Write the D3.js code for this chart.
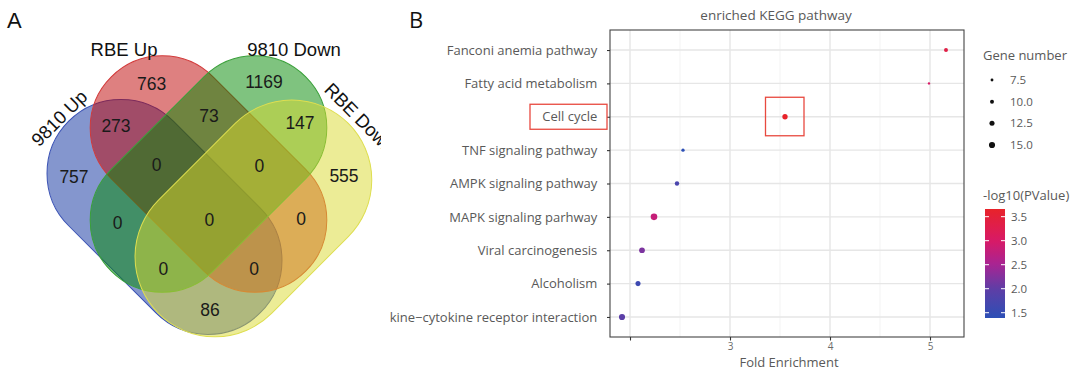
<!DOCTYPE html>
<html><head><meta charset="utf-8">
<script src="https://cdn.jsdelivr.net/npm/d3@7"></script>
<style>body{margin:0;background:#fff} svg{display:block}</style>
</head><body><svg id="c" width="1080" height="386"></svg>
<script>
// ---------- DATA ----------
const vennSets = ["9810 Up", "RBE Up", "9810 Down", "RBE Down"];
const vennColors = ["#092d9d", "#bd0101", "#008700", "#d9d92d"];
const vennStrokes = ["#3a52b4", "#d23a3a", "#3aa03a", "#dede50"];
const vennRegionKeys = ["A","B","C","D","AB","BC","CD","AD","AC","BD","ABC","BCD","ACD","ABD","ABCD"];
const vennCounts = [757, 763, 1169, 555, 273, 73, 147, 86, 0, 0, 0, 0, 0, 0, 0];

const pathways = ["Fanconi anemia pathway","Fatty acid metabolism","Cell cycle","TNF signaling pathway",
  "AMPK signaling pathway","MAPK signaling parhway","Viral carcinogenesis","Alcoholism",
  "kine\u2212cytokine receptor interaction"];
const foldEnrichment = [5.16, 4.99, 3.55, 2.53, 2.47, 2.24, 2.12, 2.08, 1.92];
const geneNumber = [10, 6.5, 13, 8.5, 11, 16, 14, 12.5, 15];
const negLog10P = [3.35, 3.0, 3.66, 1.39, 1.75, 2.8, 2.2, 1.6, 1.95];
const xTicks = [2, 3, 4, 5];
const xTickLabels = ["", "3", "4", "5"];
const xMinor = [2.5, 3.5, 4.5];
const sizeLegend = [7.5, 10, 12.5, 15];
const colorLegend = [1.5, 2.0, 2.5, 3.0, 3.5];
const highlighted = ["Cell cycle"];

// ---------- LAYOUT ----------
const svg = d3.select("#c");
const sans = "Liberation Sans, Arial, sans-serif";
const uiFont = "Open Sans, Noto Sans, sans-serif";
const grey = "#595959";

// Panel A
svg.append("text").attr("x", 7).attr("y", 28).attr("font-family", sans).attr("font-size", 22).attr("fill", "#111").text("A");
const defs = svg.append("defs");
defs.append("clipPath").attr("id", "clipA").append("rect").attr("x", 0).attr("y", 0).attr("width", 381).attr("height", 386);
const gA = svg.append("g").attr("clip-path", "url(#clipA)");

const shapes = [
  {cx: 164.5, cy: 216.9, len: 271, r: 74, rot: 45},
  {cx: 208.5, cy: 174, len: 275, r: 72, rot: 45},
  {cx: 208.5, cy: 174, len: 275, r: 72, rot: -45},
  {cx: 253.4, cy: 218.4, len: 268.5, r: 80, rot: -45}
];
gA.selectAll("rect.set").data(vennSets).join("rect").attr("class", "set")
  .attr("x", (d, i) => shapes[i].cx - shapes[i].len / 2)
  .attr("y", (d, i) => shapes[i].cy - shapes[i].r)
  .attr("width", (d, i) => shapes[i].len)
  .attr("height", (d, i) => 2 * shapes[i].r)
  .attr("rx", (d, i) => shapes[i].r).attr("ry", (d, i) => shapes[i].r)
  .attr("transform", (d, i) => `rotate(${shapes[i].rot},${shapes[i].cx},${shapes[i].cy})`)
  .attr("fill", (d, i) => vennColors[i]).attr("fill-opacity", 0.5)
  .attr("stroke", (d, i) => vennStrokes[i]).attr("stroke-width", 1);

const setLabelPos = [
  {x: 59, y: 118, rot: -45},
  {x: 124, y: 49, rot: 0},
  {x: 294, y: 49, rot: 0},
  {x: 360, y: 118, rot: 45}
];
gA.selectAll("text.setlab").data(vennSets).join("text").attr("class", "setlab")
  .attr("transform", (d, i) => `translate(${setLabelPos[i].x},${setLabelPos[i].y}) rotate(${setLabelPos[i].rot})`)
  .attr("text-anchor", "middle").attr("dy", "0.36em")
  .attr("font-family", sans).attr("font-size", 18.5).attr("fill", "#111").text(d => d);

const regionPos = {A:[74,177],B:[151.7,83.3],C:[264,81.7],D:[344,175.7],AB:[116,126],BC:[209,116],
  CD:[300,122.7],AD:[210,310],AC:[117.7,222.3],BD:[301,219],ABC:[156.7,164.3],BCD:[259.3,165.7],
  ACD:[163.3,269],ABD:[254,268.3],ABCD:[209.3,220]};
gA.selectAll("text.cnt").data(vennRegionKeys).join("text").attr("class", "cnt")
  .attr("x", d => regionPos[d][0]).attr("y", d => regionPos[d][1])
  .attr("text-anchor", "middle").attr("dy", "0.36em")
  .attr("font-family", sans).attr("font-size", 17.5).attr("fill", "#1a1a1a")
  .text((d, i) => vennCounts[i]);

// Panel B
svg.append("text").attr("x", 409).attr("y", 28).attr("font-family", uiFont).attr("font-size", 22).attr("fill", "#111").text("B");

const px0 = 610, px1 = 964, py0 = 30, py1 = 337;
const x = d3.scaleLinear().domain([1.8, 5.34]).range([px0, px1]);
const y = d3.scalePoint().domain(pathways).range([py0, py1]).padding(0.6);
const [pLo, pHi] = d3.extent(negLog10P);
const color = d3.scaleLinear()
  .domain([pLo, pLo + (pHi - pLo) * 0.27, pLo + (pHi - pLo) * 0.49, pLo + (pHi - pLo) * 0.71, pHi])
  .range(["#2c4fb6", "#5f3ea6", "#a82493", "#d81a66", "#e8232a"])
  .interpolate(d3.interpolateRgb);
const rScale = d3.scaleLinear().domain([6, 16]).range([1.1, 3.3]);

const gB = svg.append("g");
gB.append("rect").attr("x", px0).attr("y", py0).attr("width", px1 - px0).attr("height", py1 - py0).attr("fill", "#fff");
gB.selectAll("line.minor").data(xMinor).join("line").attr("class", "minor")
  .attr("x1", d => x(d)).attr("x2", d => x(d)).attr("y1", py0).attr("y2", py1)
  .attr("stroke", "#f0f0f0").attr("stroke-width", 0.8);
gB.selectAll("line.majx").data(xTicks).join("line").attr("class", "majx")
  .attr("x1", d => x(d)).attr("x2", d => x(d)).attr("y1", py0).attr("y2", py1)
  .attr("stroke", "#e6e6e6").attr("stroke-width", 1.4);
gB.selectAll("line.majy").data(pathways).join("line").attr("class", "majy")
  .attr("x1", px0).attr("x2", px1).attr("y1", d => y(d)).attr("y2", d => y(d))
  .attr("stroke", "#e6e6e6").attr("stroke-width", 1.4);

gB.selectAll("circle.pt").data(pathways).join("circle").attr("class", "pt")
  .attr("cx", (d, i) => x(foldEnrichment[i])).attr("cy", d => y(d))
  .attr("r", (d, i) => rScale(geneNumber[i]))
  .attr("fill", (d, i) => color(negLog10P[i]));

gB.append("rect").attr("x", px0).attr("y", py0).attr("width", px1 - px0).attr("height", py1 - py0)
  .attr("fill", "none").attr("stroke", "#444").attr("stroke-width", 1.1);

const yAxis = d3.axisLeft(y).tickSize(3).tickPadding(9.7);
const gy = gB.append("g").attr("transform", `translate(${px0},0)`).call(yAxis);
gy.select(".domain").remove();
gy.selectAll(".tick line").attr("stroke", "#333").attr("stroke-width", 1.1);
gy.selectAll(".tick text").attr("font-family", uiFont).attr("font-size", 13).attr("fill", grey);

const xAxis = d3.axisBottom(x).tickValues(xTicks).tickFormat((d, i) => xTickLabels[i]).tickSize(3.5).tickPadding(2);
const gx = gB.append("g").attr("transform", `translate(0,${py1})`).call(xAxis);
gx.select(".domain").remove();
gx.selectAll(".tick line").attr("stroke", "#333").attr("stroke-width", 1.1);
gx.selectAll(".tick text").attr("font-family", uiFont).attr("font-size", 10).attr("fill", "#6a6a6a");

gB.append("text").attr("x", 789).attr("y", 362).attr("dy", "0.36em").attr("text-anchor", "middle")
  .attr("font-family", uiFont).attr("font-size", 13).attr("fill", grey).text("Fold Enrichment");
gB.append("text").attr("x", 776).attr("y", 15).attr("dy", "0.36em").attr("text-anchor", "middle")
  .attr("font-family", uiFont).attr("font-size", 13.5).attr("fill", grey).text("enriched KEGG pathway");

highlighted.forEach(name => {
  const i = pathways.indexOf(name);
  gB.append("rect").attr("x", 530).attr("y", y(name) - 12.5).attr("width", 77).attr("height", 25)
    .attr("fill", "none").attr("stroke", "#e8493f").attr("stroke-width", 1.3);
  gB.append("rect").attr("x", x(foldEnrichment[i]) - 19.5).attr("y", y(name) - 19.5).attr("width", 38.5).attr("height", 38.5)
    .attr("fill", "none").attr("stroke", "#e8493f").attr("stroke-width", 1.3);
});

// legends
const gL = svg.append("g");
gL.append("text").attr("x", 983).attr("y", 55).attr("dy", "0.36em").attr("font-family", uiFont)
  .attr("font-size", 13).attr("fill", grey).text("Gene number");
const sy = d3.scalePoint().domain(sizeLegend).range([80, 145]);
gL.selectAll("circle.sz").data(sizeLegend).join("circle").attr("class", "sz")
  .attr("cx", 992).attr("cy", d => sy(d)).attr("r", d => rScale(d)).attr("fill", "#111");
gL.selectAll("text.sz").data(sizeLegend).join("text").attr("class", "sz")
  .attr("x", 1010).attr("y", d => sy(d)).attr("dy", "0.36em").attr("font-family", uiFont)
  .attr("font-size", 11.5).attr("fill", grey).text(d => d3.format(".1f")(d));

gL.append("text").attr("x", 983).attr("y", 195).attr("dy", "0.36em").attr("font-family", uiFont)
  .attr("font-size", 13).attr("fill", grey).text("-log10(PValue)");
const cb0 = 209, cb1 = 318;
const cy = d3.scaleLinear().domain([pLo, pHi]).range([cb1, cb0]);
const grad = defs.append("linearGradient").attr("id", "cbg").attr("x1", 0).attr("y1", 1).attr("x2", 0).attr("y2", 0);
d3.range(0, 1.0001, 0.05).forEach(t => {
  grad.append("stop").attr("offset", t).attr("stop-color", color(pLo + t * (pHi - pLo)));
});
gL.append("rect").attr("x", 985).attr("y", cb0).attr("width", 20).attr("height", cb1 - cb0).attr("fill", "url(#cbg)");
gL.selectAll("line.cbl").data(colorLegend).join("line").attr("class", "cbl")
  .attr("x1", 985).attr("x2", 989).attr("y1", d => cy(d)).attr("y2", d => cy(d)).attr("stroke", "#fff").attr("stroke-width", 1);
gL.selectAll("line.cbr").data(colorLegend).join("line").attr("class", "cbr")
  .attr("x1", 1001).attr("x2", 1005).attr("y1", d => cy(d)).attr("y2", d => cy(d)).attr("stroke", "#fff").attr("stroke-width", 1);
gL.selectAll("text.cb").data(colorLegend).join("text").attr("class", "cb")
  .attr("x", 1011).attr("y", d => cy(d)).attr("dy", "0.36em").attr("font-family", uiFont)
  .attr("font-size", 11.5).attr("fill", grey).text(d => d3.format(".1f")(d));
</script></body></html>
